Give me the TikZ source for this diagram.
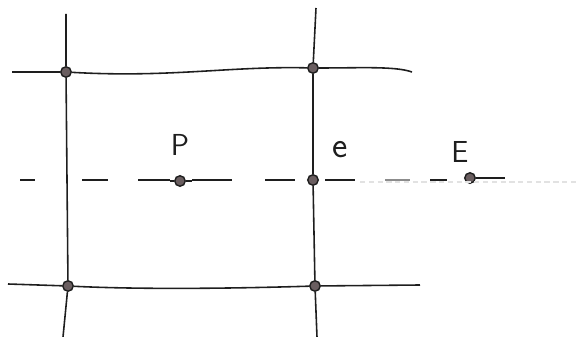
\documentclass[tikz,border=0pt]{standalone}
\usepackage{tikz}
\usetikzlibrary{calc}
\definecolor{ink}{HTML}{1E1E1E}
\definecolor{dotfill}{HTML}{6A5E60}
\definecolor{faint}{HTML}{E2E2E2}

\begin{document}
\begin{tikzpicture}[x=0.02cm,y=-0.02cm,line width=0.9pt,ink,
    pt/.style={circle,draw=ink,fill=dotfill,line width=0.8pt,inner sep=0pt,minimum size=0.21cm},
    lbl/.style={font=\sffamily\LARGE,ink}]
  \useasboundingbox (0,0) rectangle (579,337);
  % grid points
  \node[pt] (g11) at (66,72) {}; \node[pt] (g21) at (313,68) {};
  \node[pt] (g12) at (68,286) {}; \node[pt] (g22) at (315,286) {};
  % cell centre, face and neighbour centre
  \node[pt] (P) at (180,181) {}; \node[pt] (e) at (313,180) {}; \node[pt] (E) at (470,178) {};
  \node[lbl] at (180,145) {P}; \node[lbl,font=\sffamily\huge] at (340,150) {e}; \node[lbl] at (460,152) {E};
  % grid lines
  \draw (66,14) -- (g11) -- (g12) -- (63,337);
  \draw (316,8) -- (g21) -- (e) -- (g22) -- (317,337);
  \draw (12,72) -- (g11) .. controls (170,78) and (230,66) .. (g21) .. controls (360,68) and (395,66) .. (412,72);
  \draw (8,284) -- (g12) .. controls (150,290) and (250,288) .. (g22) -- (420,285);
  % dashed line through P and E
  \foreach \a/\b in {20/35,82/108,138/170,192/232,265/295,325/355,430/447}
    \draw ($(\a,180)$) -- ($(\b,180)$);
  \draw (P) -- (170,181); \draw (P) -- (192,181);
  \draw (E) -- (505,178);
  \draw[faint,line width=0.6pt,dash pattern=on 3pt off 2pt] (360,182) -- (579,182);
  \draw[black!45,line width=0.8pt] (385,180) -- (410,180);
\end{tikzpicture}
\end{document}
